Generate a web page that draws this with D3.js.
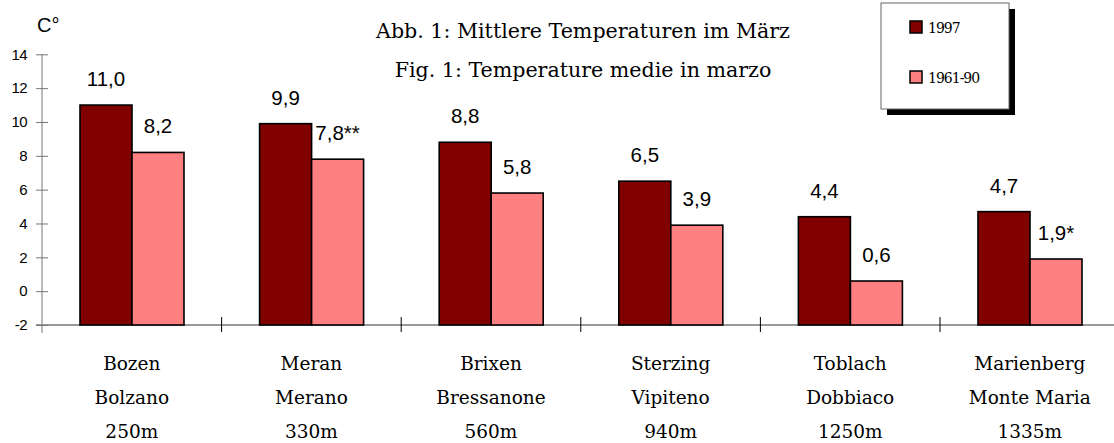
<!DOCTYPE html>
<html>
<head>
<meta charset="utf-8">
<script src="https://cdn.jsdelivr.net/npm/d3@7"></script>
<style>
  body { margin: 0; background: #fff; }
  svg { display: block; }
</style>
</head>
<body>
<svg></svg>
<script>
// stations (german / italian / elevation)
var namesDe = ["Bozen", "Meran", "Brixen", "Sterzing", "Toblach", "Marienberg"];
var namesIt = ["Bolzano", "Merano", "Bressanone", "Vipiteno", "Dobbiaco", "Monte Maria"];
var elevations = ["250m", "330m", "560m", "940m", "1250m", "1335m"];

var series = ["1997", "1961-90"];
var temp1997 = [11.0, 9.9, 8.8, 6.5, 4.4, 4.7];
var temp6190 = [8.2, 7.8, 5.8, 3.9, 0.6, 1.9];
var notes6190 = ["", "**", "", "", "", "*"];

var yTicks = [-2, 0, 2, 4, 6, 8, 10, 12, 14];
var titleLines = ["Abb. 1: Mittlere Temperaturen im März", "Fig. 1: Temperature medie in marzo"];

var colors = {"1997": "#800000", "1961-90": "#ff8080"};

var drawChart = function()
{
  var svg = d3.select("svg")
              .attr("width", 1114)
              .attr("height", 443);

  var left = 42;
  var bandW = 179.6;

  var xScale = d3.scaleBand()
                 .domain(namesDe)
                 .range([left, left + bandW * namesDe.length])
                 .padding(0);

  var xInner = d3.scaleBand()
                 .domain(series)
                 .range([38, 142]);

  var yScale = d3.scaleLinear()
                 .domain([-2, 14])
                 .range([325, 54.3]);

  var rows = namesDe.map(function(d, i) {
    return {name: d, values: [
      {key: "1997", v: temp1997[i], label: temp1997[i].toFixed(1).replace(".", ",")},
      {key: "1961-90", v: temp6190[i], label: temp6190[i].toFixed(1).replace(".", ",") + notes6190[i]}
    ]};
  });

  // y axis
  var yAxis = svg.append("g")
     .attr("transform", "translate(" + left + ",0)")
     .call(d3.axisLeft(yScale).tickValues(yTicks).tickSize(6).tickPadding(9)
             .tickFormat(function(d) {return d;}));
  yAxis.select(".domain").attr("stroke", "#777").attr("d", "M0,54.3V333");
  yAxis.selectAll(".tick line").attr("x1", 6).attr("x2", -6).attr("stroke", "#777");
  yAxis.selectAll(".tick text")
       .attr("font-family", "Liberation Sans, Arial, sans-serif")
       .attr("font-size", 15)
       .attr("letter-spacing", -0.6)
       .attr("fill", "#000");

  svg.append("text")
     .attr("x", 37)
     .attr("y", 32)
     .attr("font-family", "Liberation Sans, Arial, sans-serif")
     .attr("font-size", 20)
     .text("C°");

  // x axis line + separators
  svg.append("line")
     .attr("x1", 36).attr("x2", 1114)
     .attr("y1", yScale(-2)).attr("y2", yScale(-2))
     .attr("stroke", "#777")
     .attr("stroke-width", 1.3);

  svg.selectAll(".sep")
     .data(namesDe.slice(1))
     .enter()
     .append("line")
     .attr("class", "sep")
     .attr("x1", function(d) {return xScale(d);})
     .attr("x2", function(d) {return xScale(d);})
     .attr("y1", yScale(-2) - 8)
     .attr("y2", yScale(-2) + 7)
     .attr("stroke", "#000");

  // bars
  var groups = svg.selectAll(".grp")
     .data(rows)
     .enter()
     .append("g")
     .attr("class", "grp")
     .attr("transform", function(d) {return "translate(" + xScale(d.name) + ",0)";});

  groups.selectAll("rect")
     .data(function(d) {return d.values;})
     .enter()
     .append("rect")
     .attr("x", function(d) {return xInner(d.key);})
     .attr("y", function(d) {return yScale(d.v);})
     .attr("width", xInner.bandwidth())
     .attr("height", function(d) {return yScale(-2) - yScale(d.v);})
     .attr("fill", function(d) {return colors[d.key];})
     .attr("stroke", "#000")
     .attr("stroke-width", 1.6);

  groups.selectAll(".val")
     .data(function(d) {return d.values;})
     .enter()
     .append("text")
     .attr("class", "val")
     .attr("x", function(d) {return xInner(d.key) + xInner.bandwidth() / 2;})
     .attr("y", function(d) {return yScale(d.v) - 19;})
     .attr("text-anchor", "middle")
     .attr("font-family", "Liberation Sans, Arial, sans-serif")
     .attr("font-size", 20.5)
     .text(function(d) {return d.label;});

  // category labels
  var catLines = [namesDe, namesIt, elevations];
  catLines.forEach(function(arr, k) {
    svg.selectAll(".cat" + k)
       .data(arr)
       .enter()
       .append("text")
       .attr("class", "cat" + k)
       .attr("x", function(d, i) {return xScale(namesDe[i]) + xScale.bandwidth() / 2;})
       .attr("y", 370 + k * 34)
       .attr("text-anchor", "middle")
       .attr("font-family", "DejaVu Serif, serif")
       .attr("font-size", 18.5)
       .text(function(d) {return d;});
  });

  // title
  svg.selectAll(".title")
     .data(titleLines)
     .enter()
     .append("text")
     .attr("class", "title")
     .attr("x", 583)
     .attr("y", function(d, i) {return 38 + i * 39;})
     .attr("text-anchor", "middle")
     .attr("font-family", "DejaVu Serif, serif")
     .attr("font-size", 20.6)
     .text(function(d) {return d;});

  // legend
  var legend = svg.append("g");
  legend.append("rect")
        .attr("x", 887).attr("y", 9)
        .attr("width", 128).attr("height", 106)
        .attr("fill", "#000");
  legend.append("rect")
        .attr("x", 881).attr("y", 3)
        .attr("width", 128).attr("height", 106)
        .attr("fill", "#fff")
        .attr("stroke", "#666");

  var items = legend.selectAll(".item")
        .data(series)
        .enter()
        .append("g")
        .attr("class", "item")
        .attr("transform", function(d, i) {return "translate(910," + (21 + i * 50) + ")";});
  items.append("rect")
       .attr("width", 12).attr("height", 12)
       .attr("fill", function(d) {return colors[d];})
       .attr("stroke", "#000")
       .attr("stroke-width", 1.5);
  items.append("text")
       .attr("x", 18)
       .attr("y", 12)
       .attr("font-family", "DejaVu Serif, serif")
       .attr("font-size", 14)
       .attr("letter-spacing", -1)
       .text(function(d) {return d;});
};

drawChart();
</script>
</body>
</html>
